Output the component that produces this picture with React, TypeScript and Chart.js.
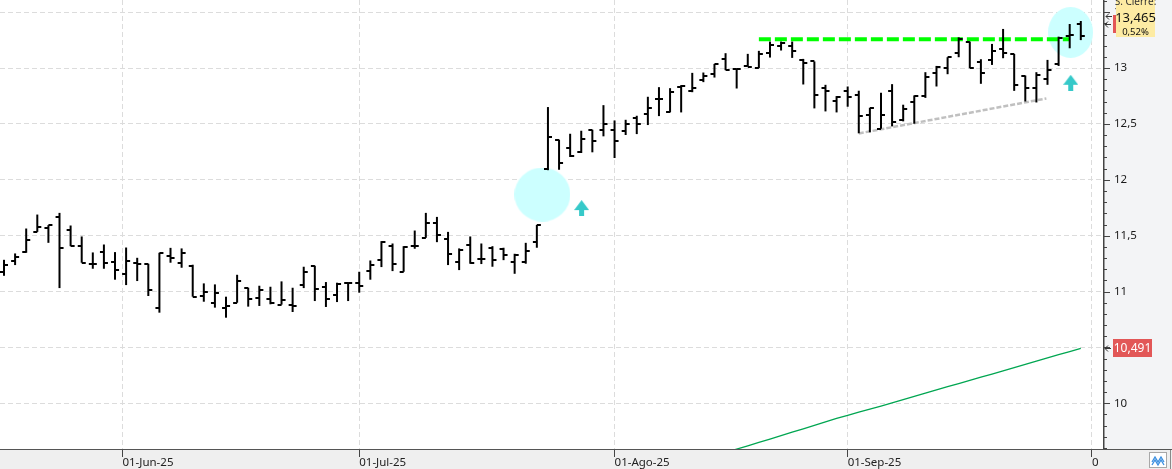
import React, { useEffect, useRef } from "react";
import { Chart, registerables } from "chart.js";

Chart.register(...registerables);

// ---------- DATA ----------
const MAY_DAYS = [16, 19, 20, 21, 22, 23, 26, 27, 28, 29, 30];
const JUN_DAYS = [2, 3, 4, 5, 6, 9, 10, 11, 12, 13, 16, 17, 18, 19, 20, 23, 24, 25, 26, 27, 30];
const JUL_DAYS = [1, 2, 3, 4, 7, 8, 9, 10, 11, 14, 15, 16, 17, 18, 21, 22, 23, 24, 25, 28, 29, 30, 31];
const AUG_DAYS = [1, 4, 5, 6, 7, 8, 11, 12, 13, 14, 15, 18, 19, 20, 21, 22, 25, 26, 27, 28, 29];
const SEP_DAYS = [1, 2, 3, 4, 5, 8, 9, 10, 11, 12, 15, 16, 17, 18, 19, 22, 23, 24, 25, 26, 29, 30];

const pad2 = (n: number) => String(n).padStart(2, "0");
const DATES: string[] = [
  ...MAY_DAYS.map((d) => `2025-05-${pad2(d)}`),
  ...JUN_DAYS.map((d) => `2025-06-${pad2(d)}`),
  ...JUL_DAYS.map((d) => `2025-07-${pad2(d)}`),
  ...AUG_DAYS.map((d) => `2025-08-${pad2(d)}`),
  ...SEP_DAYS.map((d) => `2025-09-${pad2(d)}`),
];

const OPEN = [
  11.171, 11.275, 11.35, 11.534, 11.573, 11.668, 11.552, 11.409, 11.246, 11.356,
  11.26, 11.159, 11.252, 11.243, 10.856, 11.32, 11.252, 11.225, 10.96, 10.9,
  10.85, 10.9, 11.034, 10.945, 10.93, 10.883, 10.883, 11.061, 11.231, 11.043,
  10.966, 11.073, 11.079, 11.18, 11.278, 11.406, 11.177, 11.412, 11.481, 11.615,
  11.472, 11.267, 11.418, 11.29, 11.386, 11.377, 11.267, 11.267, 11.445, 12.097,
  12.359, 12.284, 12.249, 12.448, 12.448, 12.448, 12.439, 12.552, 12.588, 12.722,
  12.606, 12.829, 12.793, 12.895, 12.945, 13.085, 12.99, 13.02, 12.999, 13.133,
  13.201, 13.198, 13.073, 13.059, 12.821, 12.707, 12.797, 12.761, 12.582, 12.457,
  12.797, 12.535, 12.696, 12.749, 12.954, 12.999, 13.132, 13.237, 13.058, 13.073,
  13.168, 13.127, 12.933, 12.82, 12.903, 13.034, 13.287, 13.395,
];
const HIGH = [
  11.284, 11.341, 11.564, 11.689, 11.594, 11.704, 11.591, 11.493, 11.35, 11.421,
  11.353, 11.394, 11.302, 11.249, 11.347, 11.391, 11.386, 11.24, 11.073, 11.064,
  10.954, 11.15, 11.034, 11.052, 11.043, 11.091, 11.034, 11.222, 11.231, 11.085,
  11.079, 11.082, 11.177, 11.278, 11.451, 11.43, 11.406, 11.546, 11.704, 11.668,
  11.534, 11.386, 11.493, 11.43, 11.406, 11.392, 11.338, 11.436, 11.597, 12.651,
  12.359, 12.412, 12.439, 12.448, 12.668, 12.531, 12.537, 12.573, 12.743, 12.829,
  12.82, 12.847, 12.957, 12.96, 13.037, 13.133, 12.996, 13.127, 13.154, 13.237,
  13.237, 13.237, 13.082, 13.059, 12.85, 12.749, 12.835, 12.797, 12.645, 12.779,
  12.856, 12.672, 12.755, 12.963, 13.019, 13.097, 13.275, 13.237, 13.079, 13.216,
  13.35, 13.127, 12.933, 12.963, 13.073, 13.281, 13.394, 13.421,
];
const LOW = [
  11.141, 11.237, 11.347, 11.534, 11.436, 11.031, 11.406, 11.258, 11.204, 11.204,
  11.106, 11.058, 11.094, 10.96, 10.811, 11.258, 11.213, 10.954, 10.909, 10.856,
  10.766, 10.9, 10.865, 10.871, 10.886, 10.883, 10.817, 11.031, 10.915, 10.862,
  10.906, 10.915, 10.99, 11.106, 11.219, 11.183, 11.177, 11.383, 11.481, 11.442,
  11.237, 11.192, 11.249, 11.246, 11.222, 11.281, 11.159, 11.249, 11.392, 12.086,
  12.09, 12.204, 12.24, 12.246, 12.389, 12.195, 12.401, 12.409, 12.49, 12.57,
  12.603, 12.603, 12.784, 12.874, 12.915, 12.981, 12.817, 13.014, 12.999, 13.094,
  13.157, 13.091, 12.853, 12.639, 12.612, 12.603, 12.654, 12.416, 12.425, 12.457,
  12.478, 12.523, 12.502, 12.733, 12.835, 12.945, 13.097, 12.999, 12.859, 13.028,
  13.088, 12.796, 12.701, 12.692, 12.85, 13.019, 13.177, 13.25,
];
const CLOSE = [
  11.24, 11.311, 11.463, 11.582, 11.594, 11.386, 11.406, 11.258, 11.246, 11.252,
  11.189, 11.275, 11.243, 11.01, 11.347, 11.296, 11.347, 10.954, 10.999, 10.99,
  10.874, 11.091, 10.936, 11.01, 10.9, 10.921, 10.874, 11.171, 11.025, 10.93,
  11.064, 11.079, 11.052, 11.24, 11.442, 11.249, 11.403, 11.412, 11.615, 11.502,
  11.338, 11.374, 11.255, 11.29, 11.284, 11.326, 11.323, 11.362, 11.597, 12.38,
  12.151, 12.216, 12.365, 12.347, 12.499, 12.35, 12.499, 12.499, 12.642, 12.722,
  12.787, 12.835, 12.82, 12.927, 13.034, 12.987, 12.996, 13.008, 13.124, 13.207,
  13.222, 13.154, 13.044, 12.758, 12.794, 12.743, 12.737, 12.568, 12.642, 12.579,
  12.517, 12.636, 12.749, 12.92, 13.007, 13.097, 13.26, 12.999, 12.954, 13.153,
  13.132, 12.85, 12.82, 12.939, 12.984, 13.27, 13.296, 13.288,
];

// Moving average (green line), starting at bar index MA_START
const MA_START = 64;
const MA = [
  9.53, 9.56, 9.59, 9.62, 9.65, 9.68, 9.71, 9.742, 9.772, 9.802,
  9.833, 9.864, 9.893, 9.92, 9.948, 9.975, 10.003, 10.033, 10.062, 10.091,
  10.12, 10.149, 10.177, 10.205, 10.234, 10.262, 10.29, 10.32, 10.348, 10.377,
  10.406, 10.435, 10.463, 10.491,
];

// Horizontal resistance (dashed green)
const RESIST_LEVEL = 13.257;
const RESIST_RANGE = [68.0, 96.0];
// Rising support (dashed grey): [index, value] endpoints
const SUPPORT_X = [77.0, 93.9];
const SUPPORT_Y = [12.415, 12.728];
// Highlight circles and arrows
const CIRCLE_X = [48.5, 96.08];
const CIRCLE_Y = [11.868, 13.319];
const ARROW_X = [52.03, 96.09];
const ARROW_Y = [11.747, 12.868];

const LAST_PRICE = 13.465;
const CHANGE_PCT = 0.52;
const MA_LAST = MA[MA.length - 1];

const X_TICK_DATES = ["2025-06-01", "2025-07-01", "2025-08-01", "2025-09-01", "2025-10-01"];
const X_TICK_LABELS = ["01-Jun-25", "01-Jul-25", "01-Ago-25", "01-Sep-25", "01-Oct-25"];
// y-axis tick values (every 0.1, labels every 0.5)
const Y_TICKS = Array.from({ length: 41 }, (_, k) => (96 + k) / 10);

const X_MIN = -0.36;
const X_MAX = 99.0;
const Y_MIN = 9.591;
const Y_MAX = 13.609;

// ---------- helpers ----------
const FONT = '"Noto Sans", "DejaVu Sans", sans-serif';
const comma = (v: number, d: number) => v.toFixed(d).replace(".", ",");

function datePos(iso: string): number {
  const t = Date.parse(iso);
  const times = DATES.map((d) => Date.parse(d));
  for (let i = 0; i < times.length; i++) {
    if (times[i] === t) return i;
    if (times[i] > t) {
      if (i === 0) return 0;
      const p = times[i - 1];
      return i - 1 + (t - p) / (times[i] - p);
    }
  }
  return times.length; // next session after the last bar
}
const X_TICK_POS = X_TICK_DATES.map(datePos);

const isMajor = (v: number) => Math.abs(v * 2 - Math.round(v * 2)) < 1e-6;

function tickImage(side: "left" | "right") {
  const c = document.createElement("canvas");
  c.width = 12;
  c.height = 2;
  const g = c.getContext("2d")!;
  g.fillStyle = "#000";
  if (side === "left") g.fillRect(2, 0, 4, 2);
  else g.fillRect(6, 0, 4, 2);
  return c;
}
function ellipseImage(w: number, h: number, color: string) {
  const c = document.createElement("canvas");
  c.width = w;
  c.height = h;
  const g = c.getContext("2d")!;
  g.fillStyle = color;
  g.beginPath();
  g.ellipse(w / 2, h / 2, w / 2, h / 2, 0, 0, Math.PI * 2);
  g.fill();
  return c;
}
function arrowImage(color: string) {
  const c = document.createElement("canvas");
  c.width = 15;
  c.height = 16;
  const g = c.getContext("2d")!;
  g.fillStyle = color;
  g.beginPath();
  g.moveTo(0, 10);
  g.lineTo(7.5, 0);
  g.lineTo(15, 10);
  g.closePath();
  g.fill();
  g.fillRect(5, 10, 5, 6);
  return c;
}
function leftArrow(ctx: CanvasRenderingContext2D, x: number, y: number) {
  ctx.beginPath();
  ctx.moveTo(x, y + 0.5);
  ctx.lineTo(x + 6, y + 0.5);
  ctx.moveTo(x + 3, y - 2.5);
  ctx.lineTo(x, y + 0.5);
  ctx.lineTo(x + 3, y + 3.5);
  ctx.stroke();
}

const PANEL_BG = "#f3f4f6";
const STRIP_BG = "#efefef";

const chromePlugin = {
  id: "chrome",
  beforeDraw(chart: any) {
    const { ctx, chartArea: a, width, height } = chart;
    ctx.save();
    ctx.fillStyle = "#ffffff";
    ctx.fillRect(0, 0, width, height);
    ctx.fillStyle = PANEL_BG;
    ctx.fillRect(a.right, 0, width - a.right, a.bottom);
    ctx.fillStyle = STRIP_BG;
    ctx.fillRect(0, a.bottom, width, height - a.bottom);
    ctx.restore();
  },
  afterDraw(chart: any) {
    const { ctx, chartArea: a, width, height } = chart;
    const yS = chart.scales.y;
    ctx.save();
    // cover overflow of the last x label in the bottom-right corner
    ctx.fillStyle = STRIP_BG;
    ctx.fillRect(a.right - 5, a.bottom + 1, width - a.right + 5, height - a.bottom);
    // small icon button
    ctx.fillStyle = "#ffffff";
    ctx.fillRect(1149.5, 452.5, 17, 15);
    ctx.strokeStyle = "#a8a8a8";
    ctx.lineWidth = 1;
    ctx.strokeRect(1149.5, 452.5, 17, 15);
    ctx.strokeStyle = "#3b8fe0";
    ctx.lineWidth = 1.3;
    ctx.beginPath();
    ctx.moveTo(1152, 462); ctx.lineTo(1155, 457); ctx.lineTo(1158, 462); ctx.lineTo(1161, 457); ctx.lineTo(1164, 462);
    ctx.moveTo(1152, 465); ctx.lineTo(1155, 460); ctx.lineTo(1158, 465); ctx.lineTo(1161, 460); ctx.lineTo(1164, 465);
    ctx.stroke();
    ctx.strokeStyle = "#8a8a8a";
    ctx.lineWidth = 1;
    ctx.beginPath();
    ctx.moveTo(1170.5, a.bottom);
    ctx.lineTo(1170.5, height);
    ctx.stroke();

    // axis lines
    ctx.strokeStyle = "#555555";
    ctx.lineWidth = 1;
    ctx.beginPath();
    ctx.moveTo(0, a.bottom + 0.5);
    ctx.lineTo(width, a.bottom + 0.5);
    ctx.stroke();
    ctx.strokeStyle = "#444444";
    ctx.lineWidth = 1.5;
    ctx.beginPath();
    ctx.moveTo(a.right + 0.75, 0);
    ctx.lineTo(a.right + 0.75, a.bottom);
    ctx.stroke();

    // y tick marks (major / minor)
    ctx.strokeStyle = "#444444";
    ctx.lineWidth = 1;
    for (const t of yS.ticks) {
      const y = Math.round(yS.getPixelForValue(t.value)) + 0.5;
      const len = isMajor(t.value) ? 7 : 4;
      ctx.beginPath();
      ctx.moveTo(a.right, y);
      ctx.lineTo(a.right + len, y);
      ctx.stroke();
    }

    // moving-average value label
    const yMa = Math.round(yS.getPixelForValue(MA_LAST));
    ctx.fillStyle = "#e25757";
    ctx.fillRect(a.right + 10, yMa - 9, 39, 18);
    ctx.fillStyle = "#ffffff";
    ctx.font = `12px ${FONT}`;
    ctx.textAlign = "center";
    ctx.textBaseline = "middle";
    ctx.fillText(comma(MA_LAST, 3), a.right + 29.5, yMa + 0.5);
    ctx.strokeStyle = "#333";
    ctx.lineWidth = 1;
    leftArrow(ctx, a.right + 2, yMa);

    // last price box
    const yP = Math.round(yS.getPixelForValue(LAST_PRICE));
    ctx.fillStyle = "#fdeba3";
    ctx.fillRect(a.right + 13, yP - 22, 39, 43);
    ctx.fillStyle = "#e25757";
    ctx.fillRect(a.right + 10, yP - 1, 3, 18);
    ctx.fillStyle = "#333";
    ctx.font = `10px ${FONT}`;
    ctx.textBaseline = "alphabetic";
    ctx.fillText("S. Cierre:", a.right + 32.5, yP - 11);
    ctx.fillStyle = "#111";
    ctx.font = `13px ${FONT}`;
    ctx.textBaseline = "middle";
    ctx.fillText(comma(LAST_PRICE, 3), a.right + 32.5, yP + 2);
    ctx.font = `9.5px ${FONT}`;
    ctx.fillText(comma(CHANGE_PCT, 2) + "%", a.right + 32.5, yP + 16.5);
    ctx.strokeStyle = "#333";
    leftArrow(ctx, a.right + 3, yP);
    leftArrow(ctx, a.right + 2, yP + 8);
    ctx.restore();
  },
};

export default function App() {
  const ref = useRef<HTMLCanvasElement>(null);

  useEffect(() => {
    document.body.style.margin = "0";
    const openImg = tickImage("left");
    const closeImg = tickImage("right");
    const circleImgs = [ellipseImage(56, 54, "#ccffff"), ellipseImage(45, 51, "#ccffff")];
    const arrowImg = arrowImage("#36c9c9");

    const rangeData = DATES.map((_, i) => ({ x: i, y: [LOW[i], HIGH[i]] }));
    const openData = OPEN.map((v, i) => ({ x: i, y: v }));
    const closeData = CLOSE.map((v, i) => ({ x: i, y: v }));
    const maData = MA.map((v, k) => ({ x: MA_START + k, y: v }));
    const resistData = RESIST_RANGE.map((x) => ({ x, y: RESIST_LEVEL }));
    const supportData = SUPPORT_X.map((x, k) => ({ x, y: SUPPORT_Y[k] }));
    const circleData = CIRCLE_X.map((x, k) => ({ x, y: CIRCLE_Y[k] }));
    const arrowData = ARROW_X.map((x, k) => ({ x, y: ARROW_Y[k] }));

    Chart.defaults.font.family = FONT;

    const chart = new Chart(ref.current!, {
      type: "bar",
      data: {
        datasets: [
          { type: "bar", data: rangeData as any, backgroundColor: "#000000", borderWidth: 0, barThickness: 2, inflateAmount: 0, order: 1 } as any,
          { type: "scatter", data: openData, pointStyle: openImg as any, pointRadius: 3, order: 0 },
          { type: "scatter", data: closeData, pointStyle: closeImg as any, pointRadius: 3, order: 0 },
          { type: "line", data: maData, borderColor: "#00a651", borderWidth: 1.3, pointRadius: 0, tension: 0, order: 5 },
          { type: "line", data: supportData, borderColor: "#c0c0c0", borderWidth: 2.5, borderDash: [5, 2], pointRadius: 0, order: 4 },
          { type: "line", data: resistData, borderColor: "#00ff00", borderWidth: 4, borderDash: [12, 4], pointRadius: 0, order: 3 },
          { type: "scatter", data: circleData, pointStyle: circleImgs as any, pointRadius: 1, order: 10 },
          { type: "scatter", data: arrowData, pointStyle: arrowImg as any, pointRadius: 1, order: 2 },
        ],
      },
      options: {
        responsive: false,
        animation: false,
        devicePixelRatio: 1,
        layout: { padding: 0, autoPadding: false },
        plugins: { legend: { display: false }, tooltip: { enabled: false } },
        events: [],
        scales: {
          x: {
            type: "linear",
            bounds: "data",
            min: X_MIN,
            max: X_MAX,
            offset: false,
            afterBuildTicks: (s: any) => { s.ticks = X_TICK_POS.map((v) => ({ value: v })); },
            afterFit: (s: any) => { s.height = 20; s.paddingLeft = 0; s.paddingRight = 0; },
            grid: { offset: false, color: "#dcdcdc", lineWidth: 1, drawTicks: true, tickLength: 8, tickColor: "#444444", tickWidth: 1 },
            border: { display: false, dash: [5, 3] },
            ticks: {
              autoSkip: false, maxRotation: 0, minRotation: 0, align: "start", padding: -1,
              color: "#222222", font: { size: 11.5, family: FONT },
              callback: (_v: any, i: number) => X_TICK_LABELS[i] ?? "",
            },
          } as any,
          y: {
            type: "linear",
            position: "right",
            bounds: "data",
            min: Y_MIN,
            max: Y_MAX,
            beginAtZero: false,
            afterBuildTicks: (s: any) => { s.ticks = Y_TICKS.map((v) => ({ value: v })); },
            afterFit: (s: any) => { s.width = 69; s.paddingTop = 0; s.paddingBottom = 0; },
            grid: {
              drawTicks: false, lineWidth: 1,
              color: (c: any) => (c.tick && isMajor(c.tick.value) ? "#dcdcdc" : "rgba(0,0,0,0)"),
            },
            border: { display: false, dash: [5, 3] },
            ticks: {
              autoSkip: false, padding: 11, color: "#1a1a1a", font: { size: 11.5, family: FONT },
              callback: (value: any) => {
                const v = Number(value);
                if (!isMajor(v)) return "";
                return String(Math.round(v * 2) / 2).replace(".", ",");
              },
            },
          } as any,
        },
      },
      plugins: [chromePlugin],
    });
    return () => chart.destroy();
  }, []);

  return (
    <div style={{ position: "absolute", left: 0, top: 0, width: 1172, height: 469 }}>
      <canvas ref={ref} width={1172} height={469} style={{ display: "block" }} />
    </div>
  );
}
